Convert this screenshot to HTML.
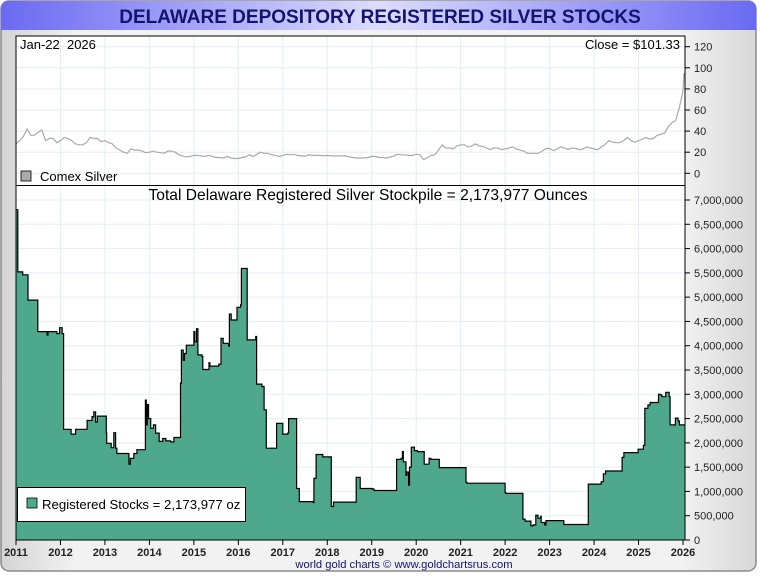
<!DOCTYPE html>
<html><head><meta charset="utf-8"><style>
html,body{margin:0;padding:0;background:#fff;}
svg text{font-family:"Liberation Sans",sans-serif;}
</style></head><body>
<svg id="c" width="760" height="575" viewBox="0 0 760 575" xmlns="http://www.w3.org/2000/svg">
<defs>
<linearGradient id="tb" x1="0" x2="1" y1="0" y2="0">
<stop offset="0" stop-color="#6a6af2"/><stop offset="0.5" stop-color="#dcdcff"/><stop offset="1" stop-color="#6a6af2"/>
</linearGradient>
<linearGradient id="bg" x1="0" x2="1" y1="0" y2="0">
<stop offset="0" stop-color="#d4d4d4"/><stop offset="0.1" stop-color="#f2f2f2"/><stop offset="0.9" stop-color="#f2f2f2"/><stop offset="1" stop-color="#d8d8d8"/>
</linearGradient>
</defs>
<rect x="1" y="1" width="755" height="570" rx="8" fill="url(#bg)" stroke="#8a8a8a" stroke-width="1.5"/>
<path d="M1,30 L1,9 Q1,1 9,1 L748,1 Q756,1 756,9 L756,30 Z" fill="url(#tb)"/>
<text x="380" y="23" text-anchor="middle" font-size="19" font-weight="bold" fill="#14146e">DELAWARE DEPOSITORY REGISTERED SILVER STOCKS</text>
<rect x="16" y="36" width="669" height="504" fill="#fff"/>
<g id="grid"></g>
<g id="series"></g>
<rect x="16" y="36" width="669" height="504" fill="none" stroke="#000" stroke-width="1"/>
<line x1="16" y1="185.5" x2="685" y2="185.5" stroke="#000"/>
<g id="axes"></g>
<text x="20" y="49" font-size="13" fill="#000" xml:space="preserve">Jan-22  2026</text>
<text x="680" y="49" font-size="13" text-anchor="end" fill="#000">Close = $101.33</text>
<rect x="21" y="171" width="10" height="10" fill="#aaa" stroke="#000" stroke-width="0.8"/>
<text x="40" y="181" font-size="13" fill="#000">Comex Silver</text>
<text x="368" y="200" font-size="15.6" text-anchor="middle" fill="#000">Total Delaware Registered Silver Stockpile = 2,173,977 Ounces</text>
<rect x="17.5" y="487.5" width="228" height="34" fill="#fff" stroke="#000"/>
<rect x="27" y="498" width="10" height="10" fill="#4ea88c" stroke="#000" stroke-width="0.8"/>
<text x="42" y="509" font-size="13.2" fill="#000">Registered Stocks = 2,173,977 oz</text>
<text x="404" y="568" font-size="11.2" text-anchor="middle" fill="#14146e">world gold charts © www.goldchartsrus.com</text>
</svg>
<script>
// Registered stocks: step dates (decimal years) and values (millions oz)
const stockDates=[2011.0,2011.04,2011.15,2011.27,2011.49,2011.70,2011.72,2011.92,2011.98,2012.04,2012.07,2012.24,2012.34,2012.56,2012.60,2012.71,2012.75,2012.79,2012.83,2012.84,2013.03,2013.04,2013.14,2013.20,2013.24,2013.27,2013.30,2013.31,2013.54,2013.57,2013.65,2013.72,2013.82,2013.91,2013.93,2013.95,2013.98,2014.03,2014.09,2014.14,2014.22,2014.30,2014.37,2014.48,2014.55,2014.59,2014.70,2014.72,2014.76,2014.79,2014.83,2014.84,2014.97,2015.0,2015.02,2015.06,2015.09,2015.18,2015.20,2015.32,2015.34,2015.36,2015.49,2015.56,2015.61,2015.66,2015.78,2015.80,2015.84,2015.97,2016.05,2016.07,2016.13,2016.20,2016.39,2016.41,2016.53,2016.58,2016.63,2016.83,2016.86,2016.98,2017.0,2017.11,2017.13,2017.22,2017.31,2017.37,2017.69,2017.70,2017.75,2017.90,2018.07,2018.09,2018.14,2018.61,2018.65,2018.74,2019.01,2019.05,2019.09,2019.53,2019.56,2019.66,2019.69,2019.71,2019.77,2019.79,2019.83,2019.85,2019.89,2019.96,2020.03,2020.18,2020.22,2020.29,2020.33,2020.52,2020.56,2021.12,2021.14,2021.28,2022.0,2022.01,2022.29,2022.40,2022.45,2022.58,2022.63,2022.69,2022.74,2022.80,2022.81,2022.89,2022.92,2023.30,2023.32,2023.84,2023.87,2024.12,2024.16,2024.21,2024.26,2024.60,2024.63,2024.67,2024.97,2024.99,2025.09,2025.11,2025.14,2025.21,2025.26,2025.41,2025.45,2025.49,2025.52,2025.54,2025.61,2025.69,2025.71,2025.76,2025.83,2025.89,2025.92,2026.05];
const stockValues=[6.8,5.52,5.46,4.94,4.29,4.22,4.29,4.25,4.37,4.25,2.28,2.18,2.28,2.28,2.46,2.54,2.64,2.43,2.55,2.55,2.20,1.99,1.90,2.21,1.89,1.78,1.78,1.78,1.56,1.68,1.78,1.86,1.86,2.88,2.37,2.79,2.50,2.30,2.37,2.20,2.03,2.09,2.04,2.02,2.11,2.11,3.23,3.91,3.70,3.84,4.01,4.01,4.01,4.29,4.08,4.35,3.81,3.78,3.51,3.51,3.65,3.58,3.58,3.62,4.15,4.05,3.99,4.65,4.53,4.79,4.84,5.59,5.59,4.12,4.19,3.21,3.16,2.68,1.89,1.89,2.40,2.40,2.18,2.20,2.50,2.50,1.06,0.79,0.77,1.27,1.76,1.71,1.71,0.69,0.78,0.78,1.29,1.06,1.05,1.02,1.02,1.02,1.66,1.68,1.82,1.61,1.33,1.40,1.13,1.50,1.91,1.84,1.82,1.56,1.56,1.68,1.66,1.49,1.49,1.19,1.17,1.17,0.98,0.96,0.96,0.43,0.39,0.29,0.31,0.51,0.45,0.49,0.36,0.31,0.40,0.40,0.32,0.32,1.15,1.15,1.20,1.36,1.42,1.42,1.70,1.80,1.80,1.87,1.87,1.95,2.71,2.78,2.83,2.83,3.0,2.99,2.96,2.95,3.04,2.95,2.37,2.37,2.51,2.45,2.37,2.36,2.2,2.17];
// Comex silver monthly closes (USD), Jan 2011 .. Jan 2026
const silverPrices=[28,31,35,42,36,36,39,41,31,33,33,29,
31,34,33,31,28,27,27,29,34,33,33,30,
31,29,28,24,22,20,19,23,22,22,21,19.5,
20,21,20,19.5,19,21,21,20,17.5,16.5,15.5,16,
17,17,16.5,16,17,16,15,15,14.5,16,14.5,14,
14,15,15.5,17.5,16,18,20,19,19,17.5,17,16,
17,18,17.5,18,17,16.5,16,17.5,17,17,17,16.5,
17,16.5,16.5,16.5,16.5,16.5,15.5,15,14.5,14.5,14.5,15,
16,16,15,15,14.5,15.5,16.5,18,17.5,17.5,17,17,
18,17.5,13,15,17,17.5,22,27,24,24,23,26,
27,27,25,26,28,26,25.5,24,22.5,24,24,22.5,
23,24,25,23,22,21,19,19,19,19,21,23.5,
23.5,21.5,23,25,24,22.5,24,23.5,22.5,23,25,24,
23,22.5,25,27.5,31,29.5,29,29,31,34,31,29.5,
31,32,34,32.5,33,36,37,38,44,48,50,62,
78,95];
const yearLabels=[2011,2012,2013,2014,2015,2016,2017,2018,2019,2020,2021,2022,2023,2024,2025,2026];
const silverTicks=[0,20,40,60,80,100,120];
const stockTicks=[0,0.5,1,1.5,2,2.5,3,3.5,4,4.5,5,5.5,6,6.5,7];

const NS='http://www.w3.org/2000/svg';
const X0=16,X1=683,Y_T0=173.3,Y_T120=46.7,Y_B0=540,Y_B7=200;
const xs=y=>X0+(y-2011)*(X1-X0)/15;
const yTop=v=>Y_T0-v*(Y_T0-Y_T120)/120;
const yBot=v=>Y_B0-v*(Y_B0-Y_B7)/7;
function mk(tag,attrs,parent){const e=document.createElementNS(NS,tag);for(const k in attrs)e.setAttribute(k,attrs[k]);parent.appendChild(e);return e;}
const grid=document.getElementById('grid'),series=document.getElementById('series'),axes=document.getElementById('axes');

yearLabels.forEach(yr=>{
  const x=xs(yr);
  if(yr>2011&&yr<2026){const g=mk('line',{x1:x,y1:36,x2:x,y2:540,stroke:'#e2eef8','stroke-width':1},grid);
  
  }
  const t=mk('line',{x1:x,y1:540,x2:x,y2:545,stroke:'#000'},axes);
  
  
  const l=mk('text',{x:x,y:556,'font-size':11,'font-weight':'bold','text-anchor':'middle',fill:'#222'},axes);
  l.textContent=yr;
  
  
});
silverTicks.forEach(v=>{
  const y=yTop(v);
  const g=mk('line',{x1:16,y1:y,x2:685,y2:y,stroke:'#e2eef8'},grid);
  
  
  const t=mk('line',{x1:685,y1:y,x2:690,y2:y,stroke:'#000'},axes);
  
  
  const l=mk('text',{x:694,y:y+4,'font-size':11,fill:'#222'},axes);
  l.textContent=v;
  
  
});
stockTicks.forEach(v=>{
  const y=yBot(v);
  const g=mk('line',{x1:16,y1:y,x2:685,y2:y,stroke:'#e2eef8'},grid);
  
  
  const t=mk('line',{x1:685,y1:y,x2:690,y2:y,stroke:'#000'},axes);
  
  
  const l=mk('text',{x:694,y:y+4,'font-size':11,fill:'#222'},axes);
  l.textContent=Math.round(v*1e6).toLocaleString('en-US');
  
  
});
mk('line',{x1:685,y1:36,x2:685,y2:540,stroke:'#000'},axes);

// silver line
let pd='';
silverPrices.forEach((v,i)=>{const yr=2011+i/12;const x=Math.min(xs(yr),684);pd+=(i?'L':'M')+x.toFixed(1)+','+yTop(v).toFixed(1);});
const sl=mk('path',{d:pd,fill:'none',stroke:'#aaa','stroke-width':1.2},series);



// stocks step area
let sd='',prev=null;
stockDates.forEach((d,i)=>{const x=Math.min(xs(d),684.5).toFixed(1),y=yBot(stockValues[i]).toFixed(1);
  if(i===0)sd='M'+x+','+y;else sd+='L'+x+','+prev+'L'+x+','+y;prev=y;});
sd+='L684.5,'+prev;
const area=mk('path',{d:sd+'L684.5,540L16,540Z',fill:'#4ea88c',stroke:'none'},series);


const ln=mk('path',{d:sd,fill:'none',stroke:'#000','stroke-width':1.2},series);


</script>
</body></html>
